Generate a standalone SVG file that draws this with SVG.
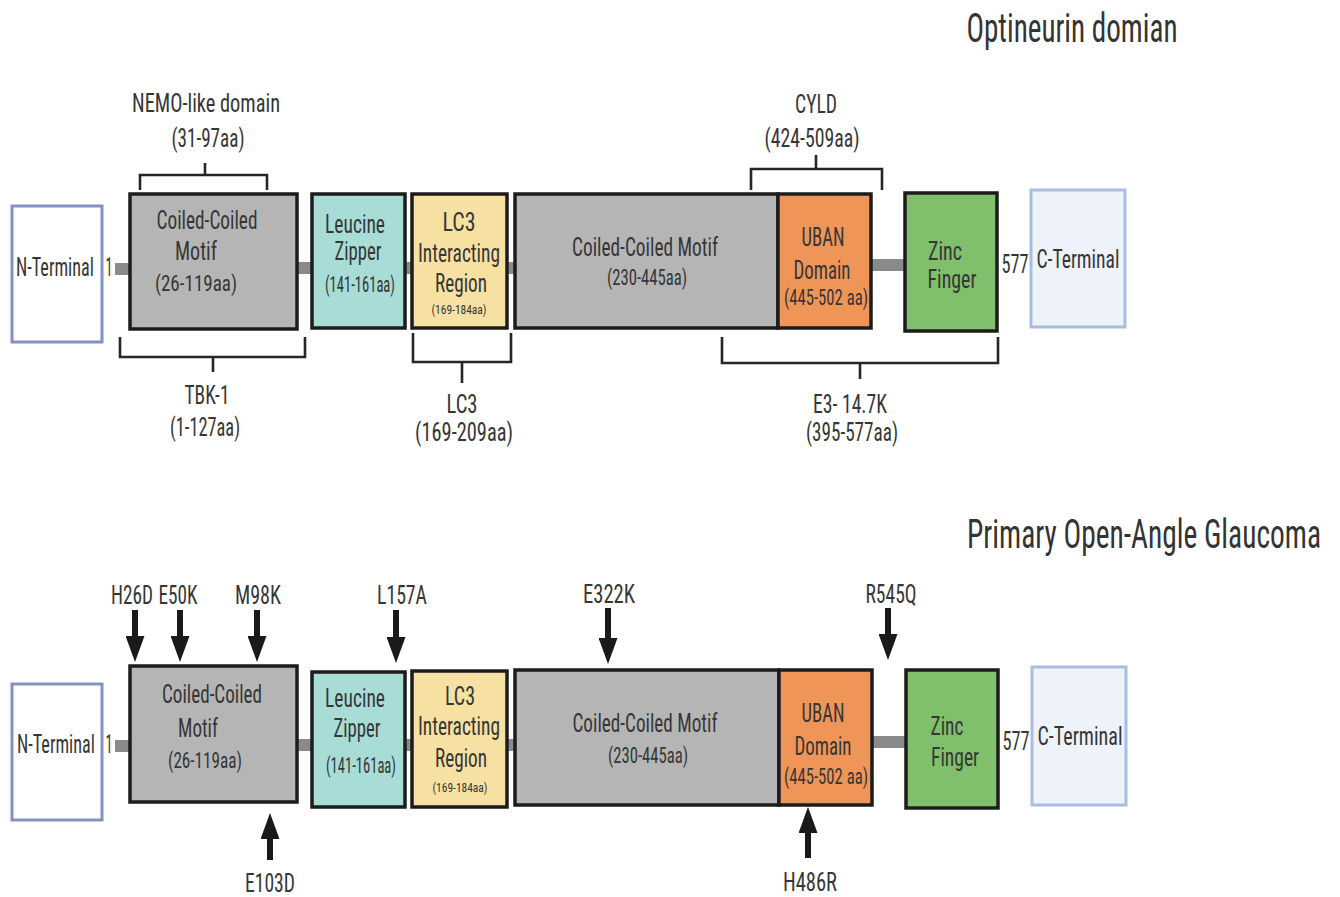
<svg xmlns="http://www.w3.org/2000/svg" width="1340" height="897" viewBox="0 0 1340 897">
<style>
text{font-family:"Liberation Sans Narrow","Roboto Condensed","Liberation Sans",Roboto,sans-serif;fill:#363636;text-anchor:middle}
.t{font-size:26px}
.s{font-size:22px}
.xs{font-size:12px}
.h{font-size:40px;fill:#333}
.box{stroke:#1c1c1c;stroke-width:3.5}
.term{stroke-width:3}
.cc{fill:#b5b5b5}
.lz{fill:#a8ddd7}
.lc{fill:#f6e0a2}
.ub{fill:#ef9558}
.zf{fill:#80bf6b}
.lk{fill:#8a8a8a}
.br{fill:none;stroke:#262626;stroke-width:2.6}
.ar{stroke:#1a1a1a;stroke-width:6;fill:none}
</style>
<defs>
<marker id="ah" markerUnits="userSpaceOnUse" markerWidth="26" markerHeight="19" refX="0" refY="9.5" orient="auto" viewBox="0 0 26 19">
<path d="M0,0 L26,9.5 L0,19 z" fill="#1a1a1a"/>
</marker>
</defs>

<!-- Titles -->
<text class="h" x="1072" y="42" textLength="211" lengthAdjust="spacingAndGlyphs">Optineurin domian</text>
<text class="h" x="1144" y="548" textLength="354" lengthAdjust="spacingAndGlyphs">Primary Open-Angle Glaucoma</text>

<!-- Connectors: linkers, brackets, arrows -->
<g id="connectors">
<rect class="lk" x="115" y="263" width="16" height="12"/>
<rect class="lk" x="297" y="262" width="16" height="12"/>
<rect class="lk" x="405" y="262" width="8" height="12"/>
<rect class="lk" x="507" y="262" width="8" height="12"/>
<rect class="lk" x="871" y="259" width="35" height="12"/>
<path class="br" d="M140,190 V175 H267 V190 M205,175 V163"/>
<path class="br" d="M120,337 V357 H305 V337 M213,357 V372"/>
<path class="br" d="M413,333 V362 H511 V333 M462,362 V383"/>
<path class="br" d="M751,190 V169 H882 V190 M816,169 V155"/>
<path class="br" d="M722,337 V363 H998 V337 M860,363 V379"/>

<rect class="lk" x="115" y="740" width="16" height="12"/>
<rect class="lk" x="297" y="739" width="16" height="12"/>
<rect class="lk" x="405" y="739" width="8" height="12"/>
<rect class="lk" x="507" y="739" width="8" height="12"/>
<rect class="lk" x="872" y="736" width="35" height="12"/>

<line class="ar" x1="135" y1="610" x2="135" y2="636" marker-end="url(#ah)"/>
<line class="ar" x1="180" y1="610" x2="180" y2="636" marker-end="url(#ah)"/>
<line class="ar" x1="257" y1="610" x2="257" y2="636" marker-end="url(#ah)"/>
<line class="ar" x1="396" y1="610" x2="396" y2="637" marker-end="url(#ah)"/>
<line class="ar" x1="608" y1="608" x2="608" y2="638" marker-end="url(#ah)"/>
<line class="ar" x1="888" y1="608" x2="888" y2="634" marker-end="url(#ah)"/>
<line class="ar" x1="270" y1="860" x2="270" y2="839" marker-end="url(#ah)"/>
<line class="ar" x1="808" y1="858" x2="808" y2="833" marker-end="url(#ah)"/>
</g>

<!-- Top row -->
<g id="n-term-top">
<rect class="term" x="12" y="206" width="90" height="136" fill="#fff" stroke="#8291c6"/>
<text class="t" x="55" y="276" textLength="78" lengthAdjust="spacingAndGlyphs">N-Terminal</text>
<text class="t" x="109" y="276" text-anchor="start" textLength="7" lengthAdjust="spacingAndGlyphs">1</text>
</g>
<g id="cc1-top">
<rect class="box cc" x="130" y="194" width="167" height="135"/>
<text class="t" x="207" y="229" textLength="101" lengthAdjust="spacingAndGlyphs">Coiled-Coiled</text>
<text class="t" x="196" y="260" textLength="42" lengthAdjust="spacingAndGlyphs">Motif</text>
<text class="s" x="196" y="291" textLength="82" lengthAdjust="spacingAndGlyphs">(26-119aa)</text>
</g>
<g id="lz-top">
<rect class="box lz" x="312" y="194" width="93" height="134"/>
<text class="t" x="355" y="233" textLength="60" lengthAdjust="spacingAndGlyphs" fill="#2f4a48">Leucine</text>
<text class="t" x="358" y="260" textLength="47" lengthAdjust="spacingAndGlyphs" fill="#2f4a48">Zipper</text>
<text class="s" x="360" y="292" textLength="70" lengthAdjust="spacingAndGlyphs" fill="#2f4a48" font-size="18">(141-161aa)</text>
</g>
<g id="lc3-top">
<rect class="box lc" x="412" y="194" width="95" height="134"/>
<text class="t" x="459" y="231" textLength="33" lengthAdjust="spacingAndGlyphs" fill="#4a4226">LC3</text>
<text class="t" x="459" y="262" textLength="82" lengthAdjust="spacingAndGlyphs" fill="#4a4226">Interacting</text>
<text class="t" x="461" y="292" textLength="52" lengthAdjust="spacingAndGlyphs" fill="#4a4226">Region</text>
<text class="xs" x="459" y="314" textLength="55" lengthAdjust="spacingAndGlyphs" fill="#4a4226">(169-184aa)</text>
</g>
<g id="cc2-top">
<rect class="box cc" x="515" y="194" width="263" height="134"/>
<text class="t" x="645" y="256" textLength="146" lengthAdjust="spacingAndGlyphs">Coiled-Coiled Motif</text>
<text class="s" x="647" y="285" textLength="80" lengthAdjust="spacingAndGlyphs">(230-445aa)</text>
</g>
<g id="uban-top">
<rect class="box ub" x="778" y="194" width="93" height="134"/>
<text class="t" x="823" y="246" textLength="43" lengthAdjust="spacingAndGlyphs" fill="#5a2c12">UBAN</text>
<text class="t" x="822" y="279" textLength="57" lengthAdjust="spacingAndGlyphs" fill="#5a2c12">Domain</text>
<text class="s" x="826" y="305" textLength="84" lengthAdjust="spacingAndGlyphs" fill="#5a2c12">(445-502 aa)</text>
</g>
<g id="zf-top">
<rect class="box zf" x="905" y="193" width="92" height="138"/>
<text class="t" x="945" y="260" textLength="34" lengthAdjust="spacingAndGlyphs" fill="#243a1c">Zinc</text>
<text class="t" x="952" y="288" textLength="49" lengthAdjust="spacingAndGlyphs" fill="#243a1c">Finger</text>
</g>
<g id="c-term-top">
<text class="t" x="1015" y="273" textLength="27" lengthAdjust="spacingAndGlyphs">577</text>
<rect class="term" x="1031" y="190" width="94" height="137" fill="#edf2fb" stroke="#a9bde0"/>
<text class="t" x="1078" y="268" textLength="83" lengthAdjust="spacingAndGlyphs">C-Terminal</text>
</g>

<!-- Top labels -->
<g id="nemo-label">
<text class="t" x="206" y="112" textLength="148" lengthAdjust="spacingAndGlyphs">NEMO-like  domain</text>
<text class="t" x="208" y="147" textLength="73" lengthAdjust="spacingAndGlyphs">(31-97aa)</text>
</g>
<g id="tbk-label">
<text class="t" x="207" y="404" textLength="45" lengthAdjust="spacingAndGlyphs">TBK-1</text>
<text class="t" x="205" y="436" textLength="70" lengthAdjust="spacingAndGlyphs">(1-127aa)</text>
</g>
<g id="lc3-label">
<text class="t" x="462" y="413" textLength="31" lengthAdjust="spacingAndGlyphs">LC3</text>
<text class="t" x="464" y="441" textLength="98" lengthAdjust="spacingAndGlyphs">(169-209aa)</text>
</g>
<g id="cyld-label">
<text class="t" x="816" y="113" textLength="42" lengthAdjust="spacingAndGlyphs">CYLD</text>
<text class="t" x="812" y="147" textLength="95" lengthAdjust="spacingAndGlyphs">(424-509aa)</text>
</g>
<g id="e3-label">
<text class="t" x="850" y="413" textLength="74" lengthAdjust="spacingAndGlyphs">E3- 14.7K</text>
<text class="t" x="852" y="441" textLength="92" lengthAdjust="spacingAndGlyphs">(395-577aa)</text>
</g>

<!-- Bottom row -->
<g id="n-term-bot">
<rect class="term" x="12" y="684" width="90" height="136" fill="#fff" stroke="#8291c6"/>
<text class="t" x="56" y="753" textLength="78" lengthAdjust="spacingAndGlyphs">N-Terminal</text>
<text class="t" x="109" y="753" text-anchor="start" textLength="7" lengthAdjust="spacingAndGlyphs">1</text>
</g>
<g id="cc1-bot">
<rect class="box cc" x="130" y="666" width="167" height="136"/>
<text class="t" x="212" y="703" textLength="100" lengthAdjust="spacingAndGlyphs">Coiled-Coiled</text>
<text class="t" x="198" y="737" textLength="40" lengthAdjust="spacingAndGlyphs">Motif</text>
<text class="s" x="205" y="768" textLength="74" lengthAdjust="spacingAndGlyphs">(26-119aa)</text>
</g>
<g id="lz-bot">
<rect class="box lz" x="312" y="672" width="93" height="135"/>
<text class="t" x="355" y="707" textLength="60" lengthAdjust="spacingAndGlyphs" fill="#2f4a48">Leucine</text>
<text class="t" x="357" y="737" textLength="47" lengthAdjust="spacingAndGlyphs" fill="#2f4a48">Zipper</text>
<text class="s" x="361" y="773" textLength="70" lengthAdjust="spacingAndGlyphs" fill="#2f4a48" font-size="18">(141-161aa)</text>
</g>
<g id="lc3-bot">
<rect class="box lc" x="412" y="671" width="95" height="136"/>
<text class="t" x="460" y="705" textLength="30" lengthAdjust="spacingAndGlyphs" fill="#4a4226">LC3</text>
<text class="t" x="459" y="735" textLength="82" lengthAdjust="spacingAndGlyphs" fill="#4a4226">Interacting</text>
<text class="t" x="461" y="767" textLength="52" lengthAdjust="spacingAndGlyphs" fill="#4a4226">Region</text>
<text class="xs" x="460" y="792" textLength="55" lengthAdjust="spacingAndGlyphs" fill="#4a4226">(169-184aa)</text>
</g>
<g id="cc2-bot">
<rect class="box cc" x="515" y="670" width="264" height="135"/>
<text class="t" x="645" y="732" textLength="145" lengthAdjust="spacingAndGlyphs">Coiled-Coiled Motif</text>
<text class="s" x="648" y="763" textLength="80" lengthAdjust="spacingAndGlyphs">(230-445aa)</text>
</g>
<g id="uban-bot">
<rect class="box ub" x="779" y="670" width="93" height="135"/>
<text class="t" x="823" y="722" textLength="43" lengthAdjust="spacingAndGlyphs" fill="#5a2c12">UBAN</text>
<text class="t" x="823" y="755" textLength="57" lengthAdjust="spacingAndGlyphs" fill="#5a2c12">Domain</text>
<text class="s" x="826" y="784" textLength="84" lengthAdjust="spacingAndGlyphs" fill="#5a2c12">(445-502 aa)</text>
</g>
<g id="zf-bot">
<rect class="box zf" x="906" y="670" width="92" height="138"/>
<text class="t" x="947" y="735" textLength="33" lengthAdjust="spacingAndGlyphs" fill="#243a1c">Zinc</text>
<text class="t" x="955" y="766" textLength="48" lengthAdjust="spacingAndGlyphs" fill="#243a1c">Finger</text>
</g>
<g id="c-term-bot">
<text class="t" x="1016" y="750" textLength="27" lengthAdjust="spacingAndGlyphs">577</text>
<rect class="term" x="1032" y="667" width="94" height="138" fill="#edf2fb" stroke="#a9bde0"/>
<text class="t" x="1080" y="745" textLength="85" lengthAdjust="spacingAndGlyphs">C-Terminal</text>
</g>

<!-- Mutation labels -->
<g id="mutations">
<text class="t" x="132" y="604" textLength="42" lengthAdjust="spacingAndGlyphs">H26D</text>
<text class="t" x="178" y="604" textLength="39" lengthAdjust="spacingAndGlyphs">E50K</text>
<text class="t" x="258" y="604" textLength="46" lengthAdjust="spacingAndGlyphs">M98K</text>
<text class="t" x="402" y="604" textLength="50" lengthAdjust="spacingAndGlyphs">L157A</text>
<text class="t" x="609" y="603" textLength="52" lengthAdjust="spacingAndGlyphs">E322K</text>
<text class="t" x="891" y="603" textLength="51" lengthAdjust="spacingAndGlyphs">R545Q</text>
<text class="t" x="270" y="892" textLength="50" lengthAdjust="spacingAndGlyphs">E103D</text>
<text class="t" x="810" y="891" textLength="54" lengthAdjust="spacingAndGlyphs">H486R</text>
</g>
</svg>
